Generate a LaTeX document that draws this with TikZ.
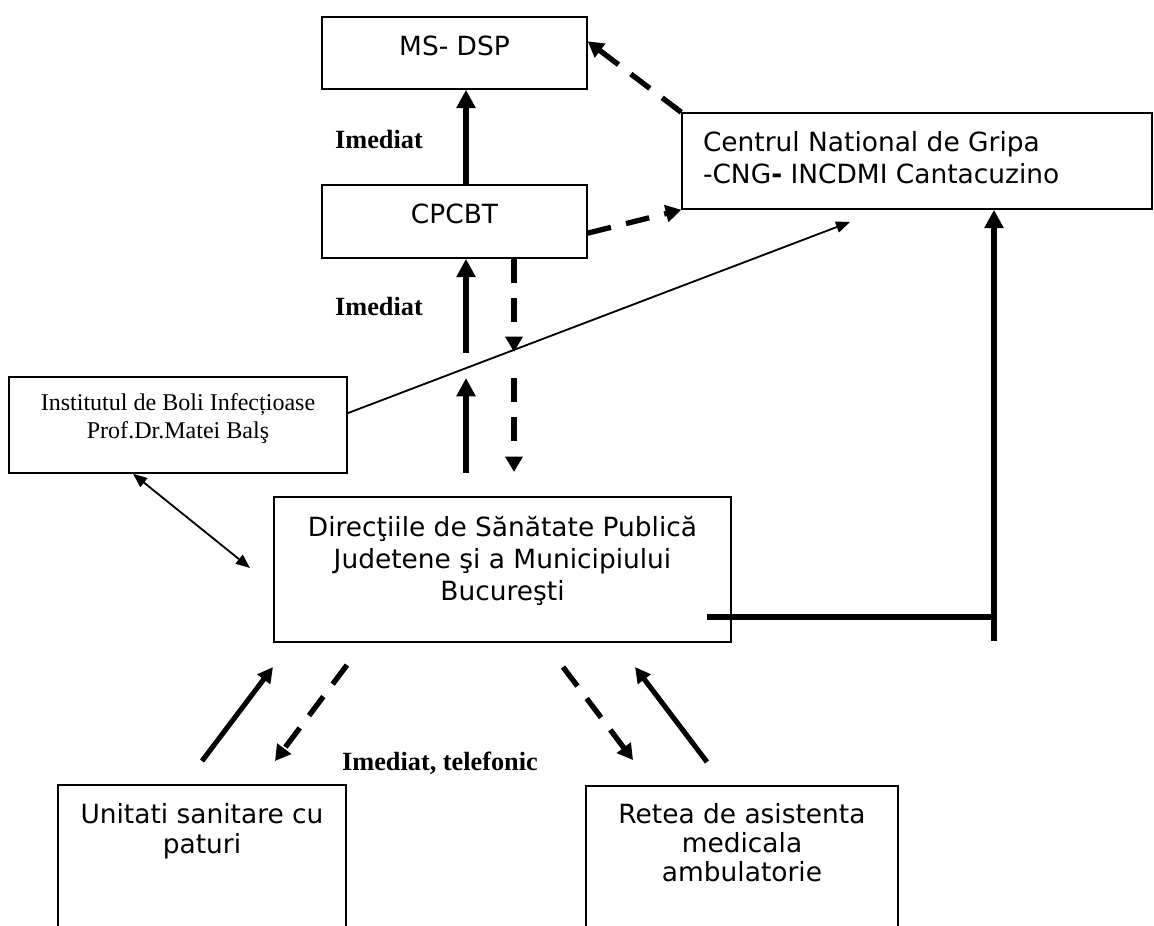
\documentclass[tikz,border=0pt]{standalone}
\usepackage{fontspec}
\setmainfont{DejaVu Sans}
\newfontfamily\serifrm{Liberation Serif}
\usetikzlibrary{arrows.meta,calc}

\newlength\pxu
\setlength\pxu{0.25mm}
\newcommand\boxtext[5]{\parbox[c][#2\pxu][t]{#1\pxu}{#3\rule{0pt}{#4\pxu}#5}}

\begin{document}
\begin{tikzpicture}[x=\pxu, y=-\pxu]
        \tikzstyle{flow_box} = [draw = black, line width=1.1pt, inner sep=0pt, font=\fontsize{18.8pt}{32\pxu}\selectfont]
        \tikzstyle{flow_note} = [inner sep=0pt, font=\serifrm\bfseries\fontsize{18.7pt}{22pt}\selectfont]
        \tikzstyle{solid_arrow} = [-{Triangle[length=13pt, width=13pt]}, line width=3.6pt]
        \tikzstyle{small_arrow} = [-{Triangle[length=11pt, width=11pt]}, line width=3.6pt]
        \tikzstyle{dash_arrow} = [-{Triangle[length=11pt, width=12pt]}, line width=3.8pt, dash pattern=on 17pt off 11pt]
        \tikzstyle{thin_arrow} = [-{Triangle[length=10pt, width=8pt]}, line width=1.3pt]
        \tikzstyle{bar_line} = [line width=4.2pt]

        \useasboundingbox (0,0) rectangle (1154,925);

        \node[flow_box] at (454.5, 53) (msdsp) {\boxtext{265}{72}{\centering}{38}{MS- DSP}};

        \node[flow_box] at (454.5, 221.5) (cpcbt) {\boxtext{265}{73}{\centering}{38}{CPCBT}};

        \node[flow_box] at (917, 161) (cng) {\boxtext{470}{96}{\raggedright\leftskip=21\pxu}{38}{Centrul National de Gripa\\-CNG{\bfseries -} INCDMI Cantacuzino}};

        \node[flow_box] at (178, 425) (inst) {\boxtext{338}{96}{\centering\serifrm\fontsize{17.1pt}{28\pxu}\selectfont}{33}{Institutul de Boli Infecțioase\\Prof.Dr.Matei Balş}};

        \node[flow_box] at (502.5, 569.5) (dsp) {\boxtext{457}{145}{\centering}{39}{Direcţiile de Sănătate Publică\\Judetene şi a Municipiului\\Bucureşti}};

        \node[flow_box] at (202, 885) (unit) {\boxtext{288}{200}{\centering\baselineskip=30\pxu}{38}{Unitati sanitare cu\\paturi}};

        \node[flow_box] at (742, 886) (retea) {\boxtext{312}{200}{\centering\baselineskip=29\pxu}{37}{Retea de asistenta\\medicala\\ambulatorie}};

        \node[flow_note] at (379, 140) (note_top) {Imediat};

        \node[flow_note] at (379, 307) (note_mid) {Imediat};

        \node[flow_note] at (440, 763) (note_low) {Imediat, telefonic};

        \coordinate (up_x) at (466, 0);
        \coordinate (up1) at (466, 353);
        \coordinate (up2) at (466, 473);
        \coordinate (up2_tip) at (466, 378);
        \coordinate (dn1) at (514, 352);
        \coordinate (dn2) at (514, 378);
        \coordinate (dn2_tip) at (514, 472);
        \coordinate (cng_in) at (850, 222);
        \coordinate (dsp_in) at (250, 568);
        \coordinate (bar_l) at (707, 617);
        \coordinate (bar_r) at (994, 617);
        \coordinate (bar_b) at (994, 641);
        \coordinate (u_tail) at (202, 761);
        \coordinate (u_tip) at (273, 667);
        \coordinate (d1_tail) at (347, 665);
        \coordinate (d1_tip) at (275, 761);
        \coordinate (d2_tail) at (563, 667);
        \coordinate (d2_tip) at (633, 760);
        \coordinate (r_tail) at (707, 762);
        \coordinate (r_tip) at (635, 667);

        \draw[solid_arrow] (cpcbt.north -| up_x) -- (msdsp.south -| up_x);
        \draw[solid_arrow] (up1) -- (cpcbt.south -| up1);
        \draw[solid_arrow] (up2) -- (up2_tip);

        \draw[dash_arrow] (cng.north west) -- (msdsp.5);
        \draw[dash_arrow] (cpcbt.-5) -- (cng.south west);
        \draw[dash_arrow] (cpcbt.south -| dn1) -- (dn1);
        \draw[dash_arrow] (dn2) -- (dn2_tip);

        \draw[thin_arrow] (inst.4) -- (cng_in);
        \draw[thin_arrow, {Triangle[length=10pt, width=8pt]}-{Triangle[length=10pt, width=8pt]}] ($(inst.south)+(-45,0)$) -- (dsp_in);

        \draw[bar_line] (bar_l) -- (bar_r);
        \draw[bar_line, -{Triangle[length=13pt, width=13pt]}] (bar_b) -- (cng.south -| bar_b);

        \draw[small_arrow] (u_tail) -- (u_tip);
        \draw[dash_arrow] (d1_tail) -- (d1_tip);
        \draw[dash_arrow] (d2_tail) -- (d2_tip);
        \draw[small_arrow] (r_tail) -- (r_tip);
\end{tikzpicture}
\end{document}
